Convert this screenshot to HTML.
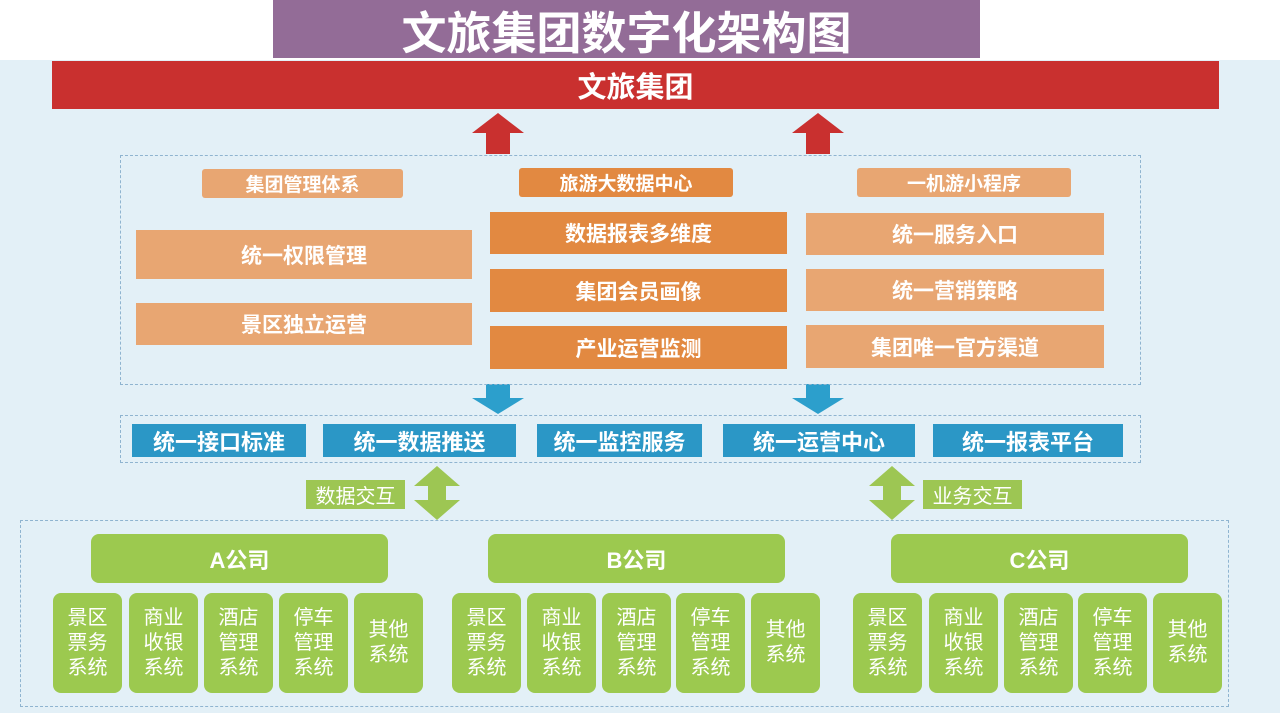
<!DOCTYPE html><html><head><meta charset="utf-8"><style>
body{margin:0;width:1280px;height:720px;position:relative;overflow:hidden;background:#fff;font-family:"Liberation Sans","Noto Sans CJK SC",sans-serif}
.a{position:absolute;display:flex;align-items:center;justify-content:center;color:#fff;font-weight:bold;box-sizing:border-box}
.d{position:absolute;border:1px dashed #8fb4d0;box-sizing:border-box}
.lo{background:#e8a672}.do{background:#e28941}.bl{background:#2b97c6;font-size:22px}
.g{background:#9cc94f;border-radius:8px}
.s{font-weight:normal;font-size:20px;line-height:25px;text-align:center;top:593px;height:100px;width:69px}
</style></head><body>
<div style="position:absolute;left:0;top:60px;width:1280px;height:653px;background:#e3f0f7"></div>
<div class="a" style="left:273px;top:0;width:707px;height:58px;background:#936c97;font-size:45px">文旅集团数字化架构图</div>
<div class="a" style="left:52px;top:61px;width:1167px;height:48px;background:#c9302f;font-size:29px">文旅集团</div>
<svg style="position:absolute;left:0;top:0" width="1280" height="720">
<g fill="#c9302f"><polygon points="472,133 498,113 524,133 510,133 510,154 486,154 486,133"/><polygon points="792,133 818,113 844,133 830,133 830,154 806,154 806,133"/></g>
<g fill="#2c9fcc"><polygon points="486,384 510,384 510,398 524,398 498,414 472,398 486,398"/><polygon points="806,384 830,384 830,398 844,398 818,414 792,398 806,398"/></g>
<g fill="#9dc653"><polygon points="437,466 460,486 446,486 446,500 460,500 437,520 414,500 428,500 428,486 414,486"/><polygon points="892,466 915,486 901,486 901,500 915,500 892,520 869,500 883,500 883,486 869,486"/></g>
</svg>
<div class="d" style="left:120px;top:155px;width:1021px;height:230px"></div>
<div class="a lo" style="left:202px;top:169px;width:201px;height:29px;font-size:19px;border-radius:3px">集团管理体系</div>
<div class="a do" style="left:519px;top:168px;width:214px;height:29px;font-size:19px;border-radius:3px">旅游大数据中心</div>
<div class="a lo" style="left:857px;top:168px;width:214px;height:29px;font-size:19px;border-radius:3px">一机游小程序</div>
<div class="a lo" style="left:136px;top:230px;width:336px;height:49px;font-size:21px">统一权限管理</div>
<div class="a lo" style="left:136px;top:303px;width:336px;height:42px;font-size:21px">景区独立运营</div>
<div class="a do" style="left:490px;top:212px;width:297px;height:42px;font-size:21px">数据报表多维度</div>
<div class="a do" style="left:490px;top:269px;width:297px;height:43px;font-size:21px">集团会员画像</div>
<div class="a do" style="left:490px;top:326px;width:297px;height:43px;font-size:21px">产业运营监测</div>
<div class="a lo" style="left:806px;top:213px;width:298px;height:42px;font-size:21px">统一服务入口</div>
<div class="a lo" style="left:806px;top:269px;width:298px;height:42px;font-size:21px">统一营销策略</div>
<div class="a lo" style="left:806px;top:325px;width:298px;height:43px;font-size:21px">集团唯一官方渠道</div>
<div class="d" style="left:120px;top:415px;width:1021px;height:48px"></div>
<div class="a bl" style="left:132px;top:424px;width:174px;height:33px">统一接口标准</div>
<div class="a bl" style="left:323px;top:424px;width:193px;height:33px">统一数据推送</div>
<div class="a bl" style="left:537px;top:424px;width:165px;height:33px">统一监控服务</div>
<div class="a bl" style="left:723px;top:424px;width:192px;height:33px">统一运营中心</div>
<div class="a bl" style="left:933px;top:424px;width:190px;height:33px">统一报表平台</div>
<div class="a" style="left:306px;top:480px;width:99px;height:29px;background:#9dc653;font-weight:normal;font-size:20px">数据交互</div>
<div class="a" style="left:923px;top:480px;width:99px;height:29px;background:#9dc653;font-weight:normal;font-size:20px">业务交互</div>
<div class="d" style="left:20px;top:520px;width:1209px;height:187px"></div>
<div class="a g" style="left:91px;top:534px;width:297px;height:49px;font-size:22px">A公司</div>
<div class="a g" style="left:488px;top:534px;width:297px;height:49px;font-size:22px">B公司</div>
<div class="a g" style="left:891px;top:534px;width:297px;height:49px;font-size:22px">C公司</div>
<div class="a g s" style="left:53px">景区<br>票务<br>系统</div>
<div class="a g s" style="left:129px">商业<br>收银<br>系统</div>
<div class="a g s" style="left:204px">酒店<br>管理<br>系统</div>
<div class="a g s" style="left:279px">停车<br>管理<br>系统</div>
<div class="a g s" style="left:354px">其他<br>系统</div>
<div class="a g s" style="left:452px">景区<br>票务<br>系统</div>
<div class="a g s" style="left:527px">商业<br>收银<br>系统</div>
<div class="a g s" style="left:602px">酒店<br>管理<br>系统</div>
<div class="a g s" style="left:676px">停车<br>管理<br>系统</div>
<div class="a g s" style="left:751px">其他<br>系统</div>
<div class="a g s" style="left:853px">景区<br>票务<br>系统</div>
<div class="a g s" style="left:929px">商业<br>收银<br>系统</div>
<div class="a g s" style="left:1004px">酒店<br>管理<br>系统</div>
<div class="a g s" style="left:1078px">停车<br>管理<br>系统</div>
<div class="a g s" style="left:1153px">其他<br>系统</div>
</body></html>
